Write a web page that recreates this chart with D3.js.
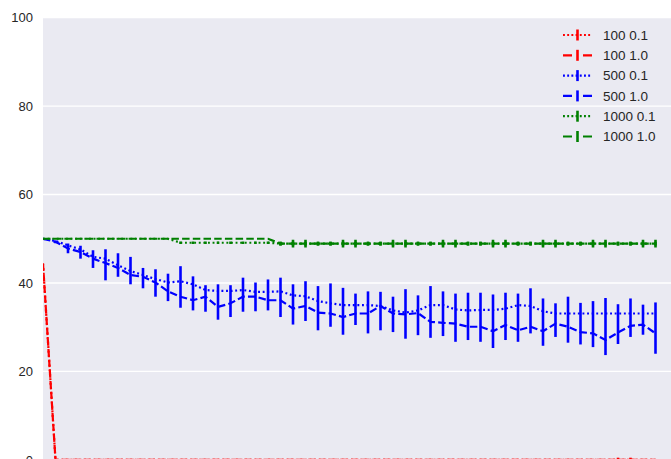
<!DOCTYPE html>
<html>
<head>
<meta charset="utf-8">
<script src="https://cdn.jsdelivr.net/npm/d3@7"></script>
<style>
  html, body { margin: 0; padding: 0; background: #ffffff; }
  svg { display: block; }
  text { font-family: "Liberation Sans", Arial, sans-serif; fill: #262626; }
</style>
</head>
<body>
<svg id="chart" width="671" height="459"></svg>
<script>
// ---- data -------------------------------------------------------------
const yTicks = [0, 20, 40, 60, 80, 100];

// 100 agents
const red01 = [44.4, 0, 0, 0, 0, 0, 0, 0, 0, 0, 0, 0, 0, 0, 0, 0, 0, 0, 0, 0, 0, 0, 0, 0, 0,
               0, 0, 0, 0, 0, 0, 0, 0, 0, 0, 0, 0, 0, 0, 0, 0, 0, 0, 0, 0, 0, 0, 0, 0, 0];
const red10 = [44.4, 0, 0, 0, 0, 0, 0, 0, 0, 0, 0, 0, 0, 0, 0, 0, 0, 0, 0, 0, 0, 0, 0, 0, 0,
               0, 0, 0, 0, 0, 0, 0, 0, 0, 0, 0, 0, 0, 0, 0, 0, 0, 0, 0, 0, 0, 0, 0, 0, 0];
const red10Err = [0, 0, 0, 0, 0, 0, 0, 0, 0, 0, 0, 0, 0, 0, 0, 0, 0, 0, 0, 0, 0, 0, 0, 0, 0,
                  0, 0, 0, 0, 0, 0, 0, 0, 0, 0, 0, 0, 0, 0, 0, 0, 0, 0, 0, 0, 0, 0.5, 0.5, 0, 0];

// 500 agents
const blue01 = [50, 49.5, 48.5, 47.6, 45.9, 45.5, 44.0, 42.7, 41.8, 40.9,
                40.1, 40.4, 39.7, 38.4, 38.2, 38.2, 38.4, 38.0, 38.0, 38.1,
                37.2, 37.0, 35.9, 35.4, 35.0, 35.0, 35.0, 34.8, 33.8, 33.3,
                33.8, 35.0, 35.0, 34.0, 33.8, 33.9, 33.9, 34.2, 35.0, 34.8,
                33.6, 33.1, 33.1, 33.1, 33.1, 33.1, 33.1, 33.1, 33.1, 33.1];
const blue10 = [50, 49.3, 47.8, 47.0, 45.5, 44.5, 43.4, 41.8, 41.4, 40.1,
                38.1, 36.9, 36.1, 36.9, 34.6, 35.4, 36.9, 36.9, 36.1, 36.1,
                34.2, 34.8, 33.3, 33.1, 32.3, 33.1, 33.1, 34.8, 33.1, 32.9,
                33.2, 31.2, 31.0, 30.8, 30.1, 30.1, 29.1, 30.5, 29.3, 30.1,
                29.1, 30.8, 30.1, 28.9, 28.6, 27.1, 28.8, 30.3, 30.6, 28.6];
const blue10Low = [50, 49.0, 46.7, 45.5, 43.4, 40.6, 41.4, 39.7, 38.8, 36.9,
                   35.9, 34.4, 33.8, 33.5, 31.7, 32.3, 33.5, 33.6, 33.8, 32.3,
                   30.6, 31.4, 29.3, 30.1, 28.3, 30.5, 28.6, 29.3, 28.9, 27.4,
                   28.2, 27.6, 28.0, 26.7, 27.1, 26.7, 25.3, 27.1, 26.7, 28.6,
                   25.8, 27.8, 26.5, 26.1, 25.5, 23.7, 26.2, 27.8, 28.3, 24.0];
const blue10High = [50, 49.6, 48.9, 48.4, 47.4, 47.6, 46.7, 45.9, 43.4, 43.1,
                    42.1, 43.8, 41.5, 39.5, 39.7, 39.5, 41.2, 40.1, 40.8, 41.2,
                    39.7, 40.4, 39.3, 39.9, 38.9, 37.6, 38.1, 38.0, 36.9, 38.6,
                    37.2, 39.3, 38.1, 37.6, 37.8, 37.8, 37.4, 37.8, 37.6, 38.8,
                    36.5, 35.4, 36.9, 35.5, 35.9, 36.6, 35.2, 36.5, 35.1, 35.6];

// 1000 agents
const green01 = [50, 50, 50, 50, 50, 50, 50, 50, 50, 50,
                 50, 49.1, 49.1, 49.1, 49.1, 49.1, 49.1, 49.1, 49.1, 48.9,
                 48.9, 48.9, 48.9, 48.9, 48.9, 48.9, 48.9, 48.9, 48.9, 48.9,
                 48.9, 48.9, 48.9, 48.9, 48.9, 48.9, 48.9, 48.9, 48.9, 48.9,
                 48.9, 48.9, 48.9, 48.9, 48.9, 48.9, 48.9, 48.9, 48.9, 48.9];
const green01Err = [0, 0, 0, 0, 0, 0, 0, 0, 0, 0,
                    0, 0.3, 0.3, 0.3, 0.3, 0.3, 0.3, 0.3, 0.3, 0.4,
                    0.4, 0.4, 0.4, 0.4, 0.4, 0.4, 0.4, 0.4, 0.4, 0.4,
                    0.4, 0.4, 0.4, 0.4, 0.4, 0.4, 0.4, 0.4, 0.4, 0.4,
                    0.4, 0.4, 0.4, 0.4, 0.4, 0.4, 0.4, 0.4, 0.4, 0.4];
const green10 = [50, 50, 50, 50, 50, 50, 50, 50, 50, 50,
                 50, 50, 50, 50, 50, 50, 50, 50, 50, 48.9,
                 48.9, 48.9, 48.9, 48.9, 48.9, 48.9, 48.9, 48.9, 48.9, 48.9,
                 48.9, 48.9, 48.9, 48.9, 48.9, 48.9, 48.9, 48.9, 48.9, 48.9,
                 48.9, 48.9, 48.9, 48.9, 48.9, 48.9, 48.9, 48.9, 48.9, 48.9];
const green10Err = [0, 0, 0, 0, 0, 0, 0, 0, 0, 0,
                    0, 0, 0, 0, 0, 0, 0, 0, 0, 0.4,
                    0.9, 0.9, 0.4, 0.4, 0.9, 0.9, 0.4, 0.4, 0.9, 0.9,
                    0.4, 0.4, 0.9, 0.9, 0.4, 0.4, 0.9, 0.9, 0.4, 0.4,
                    0.9, 0.9, 0.4, 0.4, 0.9, 0.9, 0.4, 0.4, 0.9, 0.9];

const seriesLabels = ["100 0.1", "100 1.0", "500 0.1", "500 1.0", "1000 0.1", "1000 1.0"];
const seriesColors = ["#ff0000", "#ff0000", "#0000ff", "#0000ff", "#008000", "#008000"];

// ---- layout -----------------------------------------------------------
const W = 671, H = 459;
const plotLeft = 43, plotTop = 17.6, plotBottom = 459.9;

const svg = d3.select("#chart");
svg.append("rect").attr("width", W).attr("height", H).attr("fill", "#ffffff");

const x = d3.scaleLinear().domain([0, 50]).range([plotLeft, plotLeft + 625]);
const y = d3.scaleLinear().domain([0, 100]).range([plotBottom, plotTop]);

svg.append("defs").append("clipPath").attr("id", "plot-clip")
  .append("rect").attr("x", plotLeft).attr("y", plotTop)
  .attr("width", W - plotLeft).attr("height", plotBottom - plotTop);

svg.append("rect")
  .attr("x", plotLeft).attr("y", plotTop)
  .attr("width", W - plotLeft).attr("height", plotBottom - plotTop)
  .attr("fill", "#eaeaf2");

// horizontal grid
svg.append("g").selectAll("line").data(yTicks).join("line")
  .attr("x1", plotLeft).attr("x2", W)
  .attr("y1", d => y(d)).attr("y2", d => y(d))
  .attr("stroke", "#ffffff").attr("stroke-width", 1.3);

// y axis tick labels
const yAxis = d3.axisLeft(y).tickValues(yTicks).tickSize(0).tickPadding(10);
const gy = svg.append("g").attr("transform", `translate(${plotLeft},0)`).call(yAxis);
gy.select(".domain").remove();
gy.selectAll("text")
  .attr("font-family", '"Liberation Sans", Arial, sans-serif')
  .attr("font-size", 13).attr("fill", "#262626");

// ---- series -----------------------------------------------------------
const DOTTED = "1.9,2.7";
const DASHED = "7.5,3.2";

const series = [
  { vals: red01,   lo: red01,  hi: red01,  color: seriesColors[0], dash: DOTTED },
  { vals: red10,   lo: red10.map((v, i) => v - red10Err[i]), hi: red10.map((v, i) => v + red10Err[i]), color: seriesColors[1], dash: DASHED },
  { vals: blue01,  lo: blue01, hi: blue01, color: seriesColors[2], dash: DOTTED },
  { vals: blue10,  lo: blue10Low, hi: blue10High, color: seriesColors[3], dash: DASHED },
  { vals: green01, lo: green01.map((v, i) => v - green01Err[i]), hi: green01.map((v, i) => v + green01Err[i]), color: seriesColors[4], dash: DOTTED },
  { vals: green10, lo: green10.map((v, i) => v - green10Err[i]), hi: green10.map((v, i) => v + green10Err[i]), color: seriesColors[5], dash: DASHED }
];

const plot = svg.append("g").attr("clip-path", "url(#plot-clip)");
const line = d3.line().x((d, i) => x(i)).y(d => y(d));

series.forEach(s => {
  const g = plot.append("g");
  g.append("path")
    .attr("d", line(s.vals))
    .attr("fill", "none")
    .attr("stroke", s.color)
    .attr("stroke-width", 2.2)
    .attr("stroke-dasharray", s.dash);
  const bars = s.vals.map((v, i) => ({ i, lo: s.lo[i], hi: s.hi[i] })).filter(b => b.hi > b.lo);
  g.selectAll("line.err").data(bars).join("line")
    .attr("class", "err")
    .attr("x1", b => x(b.i)).attr("x2", b => x(b.i))
    .attr("y1", b => y(b.lo)).attr("y2", b => y(b.hi))
    .attr("stroke", s.color).attr("stroke-width", 2.6);
});

// ---- legend -----------------------------------------------------------
const legend = svg.append("g");
const lx0 = 563, lx1 = 592, lxm = (lx0 + lx1) / 2;
seriesLabels.forEach((lab, k) => {
  const ly = 35 + k * 20.3;
  const s = series[k];
  const isDotted = s.dash === DOTTED;
  legend.append("line")
    .attr("x1", lx0).attr("x2", lx1).attr("y1", ly).attr("y2", ly)
    .attr("stroke", s.color).attr("stroke-width", 2.2)
    .attr("stroke-dasharray", isDotted ? "1.9,2.3" : "9,11");
  legend.append("line")
    .attr("x1", lxm).attr("x2", lxm).attr("y1", ly - 5.5).attr("y2", ly + 5.5)
    .attr("stroke", s.color).attr("stroke-width", 2.6);
  legend.append("text")
    .attr("x", 603).attr("y", ly).attr("dy", "0.35em")
    .attr("font-size", 13.5)
    .text(lab);
});
</script>
</body>
</html>
